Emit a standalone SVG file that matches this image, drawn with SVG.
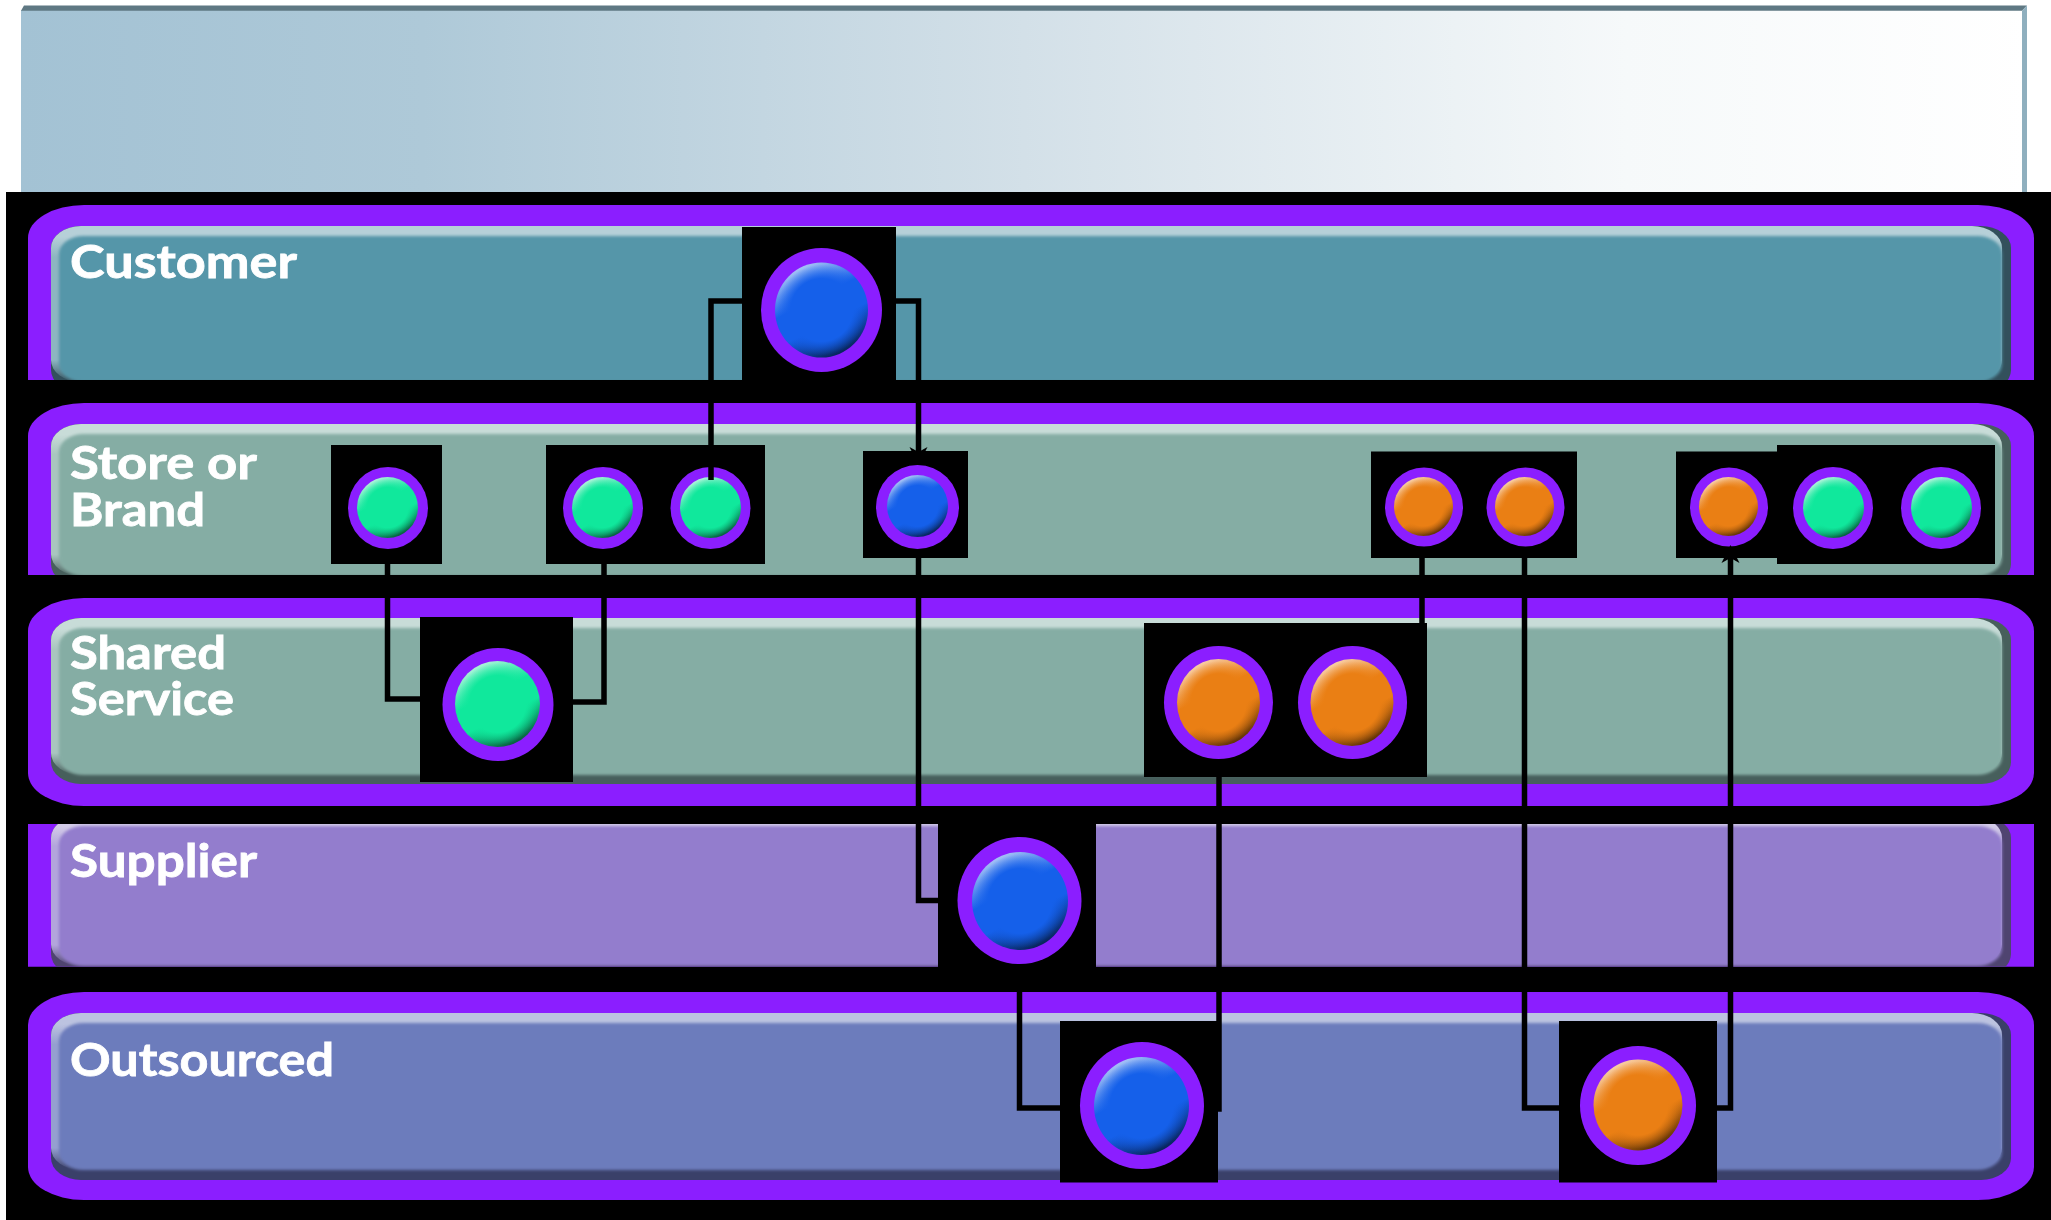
<svg xmlns="http://www.w3.org/2000/svg" width="2051" height="1220" viewBox="0 0 2051 1220">
<style>
text{font-family:Lato,"Liberation Sans",sans-serif;font-weight:700;font-size:46px;fill:#fff;stroke:#fff;stroke-width:0.8}
.purple{fill:#8b1eff}
.box{fill:#000}
.ring{fill:#8b1eff}
.conn{fill:none;stroke:#000;stroke-width:5.5;stroke-linejoin:miter}
.soft{filter:url(#soft)}
.blue{fill:url(#gBlue)}.blueC{fill:url(#cBlue)}
.green{fill:url(#gGreen)}.greenC{fill:url(#cGreen)}
.orange{fill:url(#gOrange)}.orangeC{fill:url(#cOrange)}
</style>
<defs>
<filter id="soft" x="-2%" y="-10%" width="104%" height="120%"><feGaussianBlur stdDeviation="1.5"/></filter>
<linearGradient id="top"><stop offset="0" stop-color="#a3c2d4"/><stop offset="0.2" stop-color="#aec9d8"/><stop offset="0.5" stop-color="#d3e0e8"/><stop offset="0.8" stop-color="#f6f9fa"/><stop offset="1" stop-color="#fff"/></linearGradient>
<linearGradient id="hCustomer" x1="0" y1="0" x2="0" y2="1"><stop offset="0" stop-color="#b6d0d8"/><stop offset="0.07" stop-color="#b6d0d8"/><stop offset="0.2" stop-color="#8db5c1"/><stop offset="0.86" stop-color="#8db5c1"/><stop offset="1" stop-color="#33505c"/></linearGradient>
<linearGradient id="hStore" x1="0" y1="0" x2="0" y2="1"><stop offset="0" stop-color="#c8dcd8"/><stop offset="0.07" stop-color="#c8dcd8"/><stop offset="0.2" stop-color="#a9c5bf"/><stop offset="0.86" stop-color="#a9c5bf"/><stop offset="1" stop-color="#475f5c"/></linearGradient>
<linearGradient id="hSupplier" x1="0" y1="0" x2="0" y2="1"><stop offset="0" stop-color="#d3cbe8"/><stop offset="0.07" stop-color="#d3cbe8"/><stop offset="0.2" stop-color="#b3a5dc"/><stop offset="0.86" stop-color="#b3a5dc"/><stop offset="1" stop-color="#4f4470"/></linearGradient>
<linearGradient id="hOut" x1="0" y1="0" x2="0" y2="1"><stop offset="0" stop-color="#bcc3e0"/><stop offset="0.07" stop-color="#bcc3e0"/><stop offset="0.2" stop-color="#959fd0"/><stop offset="0.86" stop-color="#959fd0"/><stop offset="1" stop-color="#3a4069"/></linearGradient>
<linearGradient id="gBlue" x1="0.2" y1="0" x2="0.7" y2="1"><stop offset="0" stop-color="#c4d8f8"/><stop offset="0.4" stop-color="#1560ea"/><stop offset="0.65" stop-color="#1560ea"/><stop offset="1" stop-color="#061f4d"/></linearGradient>
<linearGradient id="gGreen" x1="0.2" y1="0" x2="0.7" y2="1"><stop offset="0" stop-color="#cdf6e6"/><stop offset="0.4" stop-color="#10e89c"/><stop offset="0.65" stop-color="#10e89c"/><stop offset="1" stop-color="#075236"/></linearGradient>
<linearGradient id="gOrange" x1="0.2" y1="0" x2="0.7" y2="1"><stop offset="0" stop-color="#fbdfc4"/><stop offset="0.4" stop-color="#ea7f14"/><stop offset="0.65" stop-color="#ea7f14"/><stop offset="1" stop-color="#532c05"/></linearGradient>
<radialGradient id="cBlue"><stop offset="0.66" stop-color="#1560ea"/><stop offset="0.96" stop-color="#1560ea" stop-opacity="0"/></radialGradient>
<radialGradient id="cGreen"><stop offset="0.66" stop-color="#10e89c"/><stop offset="0.96" stop-color="#10e89c" stop-opacity="0"/></radialGradient>
<radialGradient id="cOrange"><stop offset="0.66" stop-color="#ea7f14"/><stop offset="0.96" stop-color="#ea7f14" stop-opacity="0"/></radialGradient>
<clipPath id="clipCustomer"><rect x="0" y="192" width="2051" height="188"/></clipPath>
<clipPath id="clipStore"><rect x="0" y="392" width="2051" height="183"/></clipPath>
<clipPath id="clipSupplier"><rect x="0" y="824" width="2051" height="142.7"/></clipPath>
<marker id="arrow" markerUnits="userSpaceOnUse" markerWidth="20" markerHeight="20" refX="8" refY="10" orient="auto"><path d="M18,10 L0,1 L5,10 L0,19 Z" fill="#000"/></marker>
</defs>

<rect x="0" y="0" width="2051" height="1220" fill="#fff"/>
<g id="header">
<rect x="21" y="10" width="2006" height="182" fill="url(#top)"/>
<path d="M21,10.7 L24,5.4 H2027 L2022,10.7 Z" fill="#5f7883"/>
<path d="M2022,10.7 L2027,5.4 V192 H2022 Z" fill="#8fafbe"/>
</g>
<rect x="6" y="192" width="2045" height="1028" fill="#000"/>

<g id="band-customer" clip-path="url(#clipCustomer)">
<rect class="purple" x="28" y="205" width="2006" height="208" rx="56" ry="33"/>
<rect x="51" y="226" width="1960" height="166" rx="30" ry="22" fill="#33505c"/>
<rect x="51" y="226" width="1951" height="156" rx="30" ry="22" fill="url(#hCustomer)"/>
<rect class="soft" x="59" y="236" width="1943" height="146" rx="25" ry="18" fill="#5596a9"/>
<text x="70" y="278" textLength="227" lengthAdjust="spacingAndGlyphs">Customer</text>
</g>
<g id="band-store" clip-path="url(#clipStore)">
<rect class="purple" x="28" y="403" width="2006" height="208" rx="56" ry="33"/>
<rect x="51" y="424" width="1960" height="162" rx="30" ry="22" fill="#475f5c"/>
<rect x="51" y="424" width="1951" height="152" rx="30" ry="22" fill="url(#hStore)"/>
<rect class="soft" x="59" y="434" width="1943" height="142" rx="25" ry="18" fill="#85ada4"/>
<text x="70" y="479" textLength="187" lengthAdjust="spacingAndGlyphs">Store or</text>
<text x="70" y="526" textLength="135" lengthAdjust="spacingAndGlyphs">Brand</text>
</g>
<g id="band-shared">
<rect class="purple" x="28" y="598" width="2006" height="208" rx="56" ry="33"/>
<rect x="51" y="618" width="1960" height="166" rx="30" ry="22" fill="#475f5c"/>
<rect x="51" y="618" width="1951" height="157" rx="30" ry="22" fill="url(#hStore)"/>
<rect class="soft" x="59" y="628" width="1943" height="147" rx="25" ry="18" fill="#85ada4"/>
<text x="70" y="668.5" textLength="156" lengthAdjust="spacingAndGlyphs">Shared</text>
<text x="70" y="714.5" textLength="164" lengthAdjust="spacingAndGlyphs">Service</text>
</g>
<g id="band-supplier" clip-path="url(#clipSupplier)">
<rect class="purple" x="28" y="790" width="2006" height="210" rx="20" ry="20"/>
<rect x="51" y="816" width="1960" height="160" rx="30" ry="22" fill="#4f4470"/>
<rect x="51" y="816" width="1951" height="150" rx="30" ry="22" fill="url(#hSupplier)"/>
<rect class="soft" x="59" y="826" width="1943" height="140" rx="25" ry="18" fill="#937dcd"/>
<text x="70" y="877" textLength="187" lengthAdjust="spacingAndGlyphs">Supplier</text>
</g>
<g id="band-outsourced">
<rect class="purple" x="28" y="992" width="2006" height="208" rx="56" ry="33"/>
<rect x="51" y="1013" width="1960" height="167" rx="30" ry="22" fill="#3a4069"/>
<rect x="51" y="1013" width="1951" height="157" rx="30" ry="22" fill="url(#hOut)"/>
<rect class="soft" x="59" y="1023" width="1943" height="147" rx="25" ry="18" fill="#6c7bbc"/>
<text x="70" y="1076" textLength="264" lengthAdjust="spacingAndGlyphs">Outsourced</text>
</g>

<g id="node-customer-blue">
<rect class="box" x="742" y="227" width="154" height="153"/>
<ellipse class="ring" cx="821.5" cy="310" rx="60.5" ry="62"/>
<ellipse class="blue" cx="821.5" cy="310" rx="46.5" ry="47.5"/>
<ellipse class="blueC" cx="821.5" cy="310" rx="46.5" ry="47.5"/>
</g>
<g id="node-store-green-1">
<rect class="box" x="331" y="445" width="111" height="119"/>
<ellipse class="ring" cx="388" cy="508" rx="40" ry="41"/>
<ellipse class="green" cx="387.5" cy="507.5" rx="30.5" ry="30.5"/>
<ellipse class="greenC" cx="387.5" cy="507.5" rx="30.5" ry="30.5"/>
</g>
<g id="node-store-green-2">
<rect class="box" x="546" y="445" width="219" height="119"/>
<ellipse class="ring" cx="603" cy="508" rx="40" ry="41"/>
<ellipse class="green" cx="602.5" cy="507.5" rx="30.5" ry="30.5"/>
<ellipse class="greenC" cx="602.5" cy="507.5" rx="30.5" ry="30.5"/>
<ellipse class="ring" cx="710.5" cy="508" rx="40" ry="41"/>
<ellipse class="green" cx="710.5" cy="507.5" rx="30.5" ry="30.5"/>
<ellipse class="greenC" cx="710.5" cy="507.5" rx="30.5" ry="30.5"/>
</g>
<g id="node-store-blue">
<rect class="box" x="863" y="451" width="105" height="107"/>
<ellipse class="ring" cx="917.5" cy="507" rx="41.5" ry="42"/>
<ellipse class="blue" cx="917.5" cy="506" rx="30.5" ry="31"/>
<ellipse class="blueC" cx="917.5" cy="506" rx="30.5" ry="31"/>
</g>
<g id="node-store-orange-1">
<rect class="box" x="1371" y="451.5" width="206" height="106.5"/>
<ellipse class="ring" cx="1424" cy="507" rx="39" ry="39.5"/>
<ellipse class="orange" cx="1423.5" cy="506.5" rx="29.5" ry="29.5"/>
<ellipse class="orangeC" cx="1423.5" cy="506.5" rx="29.5" ry="29.5"/>
<ellipse class="ring" cx="1525.5" cy="507" rx="39" ry="39.5"/>
<ellipse class="orange" cx="1524.5" cy="506.5" rx="29.5" ry="29.5"/>
<ellipse class="orangeC" cx="1524.5" cy="506.5" rx="29.5" ry="29.5"/>
</g>
<g id="node-store-orange-2">
<rect class="box" x="1676" y="451.5" width="102" height="106.5"/>
<ellipse class="ring" cx="1729" cy="507" rx="39" ry="39.5"/>
<ellipse class="orange" cx="1728.5" cy="506.5" rx="29.5" ry="29.5"/>
<ellipse class="orangeC" cx="1728.5" cy="506.5" rx="29.5" ry="29.5"/>
</g>
<g id="node-store-green-3">
<rect class="box" x="1777" y="445" width="218" height="119"/>
<ellipse class="ring" cx="1833" cy="508" rx="40" ry="41"/>
<ellipse class="green" cx="1833.5" cy="507.5" rx="30.5" ry="30.5"/>
<ellipse class="greenC" cx="1833.5" cy="507.5" rx="30.5" ry="30.5"/>
<ellipse class="ring" cx="1941" cy="508" rx="40" ry="41"/>
<ellipse class="green" cx="1941.5" cy="507.5" rx="30.5" ry="30.5"/>
<ellipse class="greenC" cx="1941.5" cy="507.5" rx="30.5" ry="30.5"/>
</g>
<g id="node-shared-green">
<rect class="box" x="420" y="617" width="153" height="165"/>
<ellipse class="ring" cx="498" cy="704.5" rx="55.5" ry="56.5"/>
<ellipse class="green" cx="497.5" cy="704" rx="42.5" ry="43"/>
<ellipse class="greenC" cx="497.5" cy="704" rx="42.5" ry="43"/>
</g>
<g id="node-shared-orange">
<rect class="box" x="1144" y="623" width="283" height="154"/>
<ellipse class="ring" cx="1218.5" cy="702.5" rx="54.5" ry="56.5"/>
<ellipse class="orange" cx="1218.5" cy="702.5" rx="41.5" ry="43.5"/>
<ellipse class="orangeC" cx="1218.5" cy="702.5" rx="41.5" ry="43.5"/>
<ellipse class="ring" cx="1352.5" cy="702.5" rx="54.5" ry="56.5"/>
<ellipse class="orange" cx="1352" cy="702.5" rx="41.5" ry="43.5"/>
<ellipse class="orangeC" cx="1352" cy="702.5" rx="41.5" ry="43.5"/>
</g>
<g id="node-supplier-blue">
<rect class="box" x="938" y="815" width="158" height="160"/>
<ellipse class="ring" cx="1019.5" cy="900.5" rx="62" ry="63.5"/>
<ellipse class="blue" cx="1020" cy="901" rx="48" ry="49"/>
<ellipse class="blueC" cx="1020" cy="901" rx="48" ry="49"/>
</g>
<g id="node-outsourced-blue">
<rect class="box" x="1060" y="1021" width="158" height="161.5"/>
<ellipse class="ring" cx="1142" cy="1105.5" rx="62" ry="63.5"/>
<ellipse class="blue" cx="1141.5" cy="1106" rx="47.5" ry="49"/>
<ellipse class="blueC" cx="1141.5" cy="1106" rx="47.5" ry="49"/>
</g>
<g id="node-outsourced-orange">
<rect class="box" x="1559" y="1021" width="158" height="161.5"/>
<ellipse class="ring" cx="1638" cy="1105.5" rx="58" ry="59.5"/>
<ellipse class="orange" cx="1638" cy="1105" rx="44.5" ry="45.5"/>
<ellipse class="orangeC" cx="1638" cy="1105" rx="44.5" ry="45.5"/>
</g>

<g id="connectors">
<path class="conn" d="M742,301 H711 V480"/>
<path class="conn" d="M896,301 H918.5 V455" marker-end="url(#arrow)"/>
<path class="conn" d="M387.5,564 V699 H428" marker-end="url(#arrow)"/>
<path class="conn" d="M604,564 V702 H573"/>
<path class="conn" d="M918.5,558 V900.5 H938"/>
<path class="conn" d="M1019.5,967 V1108 H1060"/>
<path class="conn" d="M1219,777 V1109 H1208"/>
<path class="conn" d="M1422,558 V623"/>
<path class="conn" d="M1524.5,558 V1108 H1559"/>
<path class="conn" d="M1717,1108 H1730.5 V555" marker-end="url(#arrow)"/>
</g>
</svg>
